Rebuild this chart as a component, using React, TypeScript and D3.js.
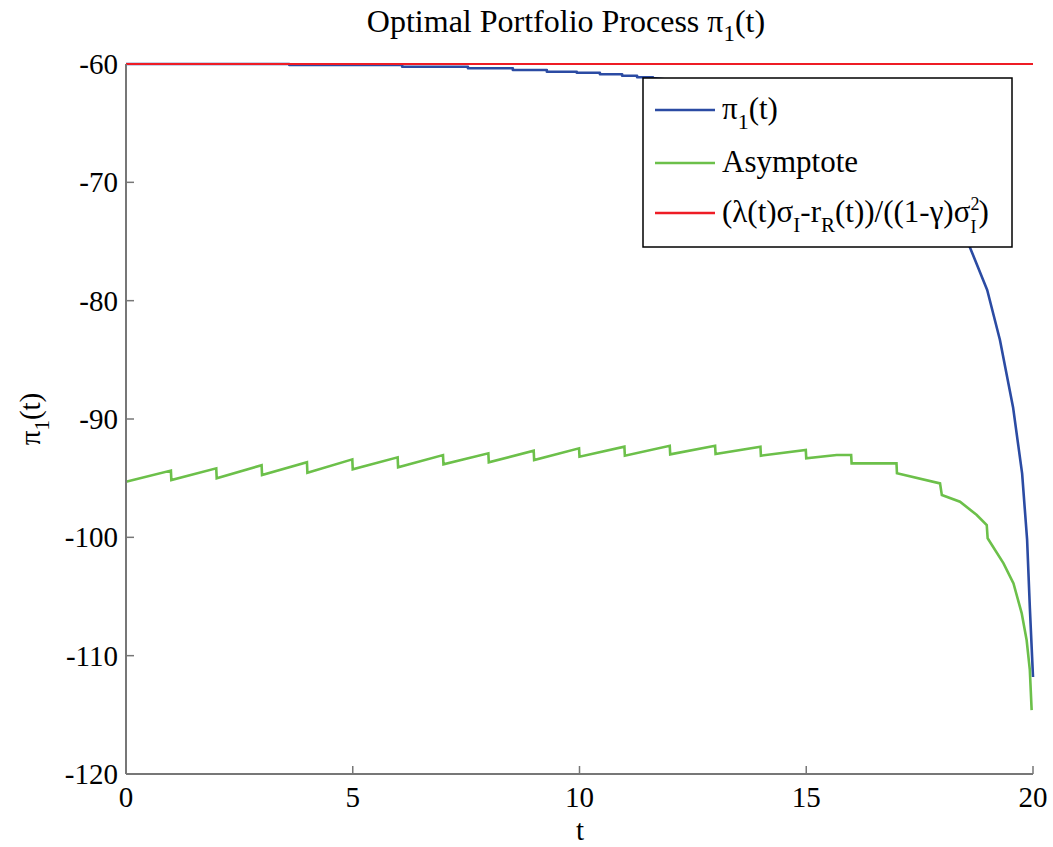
import React, { useEffect, useRef } from 'react';
import * as d3 from 'd3';

// pi_1(t) (step process, hidden part behind legend estimated)
const piT = [0, 3.6, 6.09, 7.54, 8.53, 9.28, 9.94, 10.45, 10.94, 11.27, 11.62];
const piV = [-60.0, -60.08, -60.23, -60.36, -60.51, -60.65, -60.74, -60.87, -60.99, -61.12, -61.18];
// smooth tail of pi_1(t)
const piTailT = [11.62, 12.4, 13.3, 14.2, 15.1, 15.9, 16.7, 17.3, 17.8, 18.2, 18.61, 18.99, 19.27, 19.56, 19.76, 19.87, 19.93, 19.98, 20];
const piTailV = [-61.18, -61.5, -62.0, -62.7, -63.6, -64.7, -66.2, -67.8, -69.6, -71.8, -75.5, -79.1, -83.3, -89.0, -94.6, -100.2, -105.9, -110.1, -111.8];

// asymptote (sawtooth, drops at integer t)
const asyT = [0, 0.99, 1, 1.99, 2, 2.99, 3, 3.99, 4, 4.99, 5, 5.99, 6, 6.99, 7, 7.99, 8, 8.99, 9, 9.99, 10, 10.99, 11, 11.99, 12, 12.99, 13, 13.99, 14, 14.99, 15, 15.67, 15.99, 16, 16.99, 17, 17.95, 17.99, 18.39, 18.76, 18.98, 19, 19.35, 19.57, 19.75, 19.86, 19.93, 19.97];
const asyV = [-95.3, -94.36, -95.16, -94.17, -95.0, -93.9, -94.73, -93.66, -94.54, -93.41, -94.25, -93.24, -94.08, -93.05, -93.83, -92.9, -93.66, -92.68, -93.47, -92.48, -93.19, -92.34, -93.1, -92.26, -92.99, -92.26, -92.96, -92.34, -93.1, -92.62, -93.32, -93.04, -93.04, -93.75, -93.75, -94.59, -95.44, -96.43, -96.99, -98.11, -98.96, -100.08, -102.2, -103.9, -106.4, -108.7, -111.2, -114.6];

// red reference level
const refT = [0, 20];
const refV = [-60, -60];

const xTicks = [0, 5, 10, 15, 20];
const yTicks = [-60, -70, -80, -90, -100, -110, -120];

const FONT = "'Liberation Serif', 'Times New Roman', 'DejaVu Serif', serif";

const App = () => {
  const ref = useRef<SVGSVGElement>(null);

  useEffect(() => {
    const left = 126, right = 1033, top = 64, bottom = 774;

    const svg = d3.select(ref.current);
    svg.selectAll('*').remove();

    const x = d3.scaleLinear().domain([0, 20]).range([left, right]);
    const y = d3.scaleLinear().domain([-120, -60]).range([bottom, top]);

    const txt = (sel: any) => sel.style('font-family', FONT).attr('fill', '#000');

    // title
    const title = svg.append('text')
      .attr('x', 566)
      .attr('y', 32)
      .attr('text-anchor', 'middle')
      .call(txt)
      .style('font-size', '32px');
    title.append('tspan').text('Optimal Portfolio Process π');
    title.append('tspan').attr('dy', 9).style('font-size', '23px').text('1');
    title.append('tspan').attr('dy', -9).text('(t)');

    const makePath = (ts: number[], vs: number[], step: boolean) => {
      const pts = ts.map((t, i) => [x(t), y(vs[i])] as [number, number]);
      return d3.line().curve(step ? d3.curveStepAfter : d3.curveLinear)(pts);
    };

    svg.append('path')
      .attr('d', makePath(piT, piV, true) + makePath(piTailT, piTailV, false)!.replace(/^M/, 'L'))
      .attr('fill', 'none')
      .attr('stroke', '#2b4ba3')
      .attr('stroke-width', 2.6)
      .attr('stroke-linejoin', 'round');

    svg.append('path')
      .attr('d', makePath(asyT, asyV, false))
      .attr('fill', 'none')
      .attr('stroke', '#6cc04a')
      .attr('stroke-width', 2.6);

    svg.append('path')
      .attr('d', makePath(refT, refV, false))
      .attr('fill', 'none')
      .attr('stroke', '#ee1c25')
      .attr('stroke-width', 2.2);

    // axes (left + bottom only, inward ticks)
    const axisColor = '#777';
    svg.append('line')
      .attr('x1', left).attr('x2', left).attr('y1', top).attr('y2', bottom)
      .attr('stroke', axisColor).attr('stroke-width', 2);
    svg.append('line')
      .attr('x1', left).attr('x2', right).attr('y1', bottom).attr('y2', bottom)
      .attr('stroke', axisColor).attr('stroke-width', 2);

    xTicks.forEach(t => {
      svg.append('line')
        .attr('x1', x(t)).attr('x2', x(t)).attr('y1', bottom).attr('y2', bottom - 8)
        .attr('stroke', axisColor).attr('stroke-width', 1.5);
      svg.append('text')
        .attr('x', x(t)).attr('y', 807)
        .attr('text-anchor', 'middle')
        .call(txt).style('font-size', '29px')
        .text(t);
    });

    yTicks.forEach(v => {
      if (v !== -60) {
        svg.append('line')
          .attr('x1', left).attr('x2', left + 8).attr('y1', y(v)).attr('y2', y(v))
          .attr('stroke', axisColor).attr('stroke-width', 1.5);
      }
      svg.append('text')
        .attr('x', 118).attr('y', y(v) + 10)
        .attr('text-anchor', 'end')
        .call(txt).style('font-size', '29px')
        .text(v);
    });

    // axis labels
    svg.append('text')
      .attr('x', 580).attr('y', 840)
      .attr('text-anchor', 'middle')
      .call(txt).style('font-size', '29px')
      .text('t');

    const yl = svg.append('text')
      .attr('transform', `translate(40, ${(top + bottom) / 2}) rotate(-90)`)
      .attr('text-anchor', 'middle')
      .call(txt).style('font-size', '29px');
    yl.append('tspan').text('π');
    yl.append('tspan').attr('dy', 9).style('font-size', '21px').text('1');
    yl.append('tspan').attr('dy', -9).text('(t)');

    // legend
    const lg = svg.append('g');
    lg.append('rect')
      .attr('x', 643).attr('y', 78).attr('width', 369).attr('height', 169)
      .attr('fill', '#fff').attr('stroke', '#000').attr('stroke-width', 1.5);

    const entries = [
      { color: '#2b4ba3', y: 110 },
      { color: '#6cc04a', y: 163 },
      { color: '#ee1c25', y: 213 },
    ];
    entries.forEach(e => {
      lg.append('line')
        .attr('x1', 655).attr('x2', 715).attr('y1', e.y).attr('y2', e.y)
        .attr('stroke', e.color).attr('stroke-width', 2.6);
    });

    const t1 = lg.append('text').attr('x', 722).attr('y', 119)
      .call(txt).style('font-size', '31px');
    t1.append('tspan').text('π');
    t1.append('tspan').attr('dy', 10).style('font-size', '22px').text('1');
    t1.append('tspan').attr('dy', -10).text('(t)');

    lg.append('text').attr('x', 722).attr('y', 172)
      .call(txt).style('font-size', '31px')
      .text('Asymptote');

    const t3 = lg.append('text').attr('x', 722).attr('y', 222)
      .call(txt).style('font-size', '31px');
    t3.append('tspan').text('(λ(t)σ');
    t3.append('tspan').attr('dy', 10).style('font-size', '21px').text('I');
    t3.append('tspan').attr('dy', -10).text('-r');
    t3.append('tspan').attr('dy', 10).style('font-size', '21px').text('R');
    t3.append('tspan').attr('dy', -10).text('(t))/((1-γ)σ');
    t3.append('tspan').attr('dy', -12).style('font-size', '18px').text('2');
    t3.append('tspan').attr('dx', -9).attr('dy', 23).style('font-size', '18px').text('I');
    t3.append('tspan').attr('dx', 2).attr('dy', -11).text(')');
  }, []);

  return (
    <svg
      ref={ref}
      width={1053}
      height={847}
      style={{ position: 'absolute', left: 0, top: 0, background: '#fff' }}
    />
  );
};

export default App;
